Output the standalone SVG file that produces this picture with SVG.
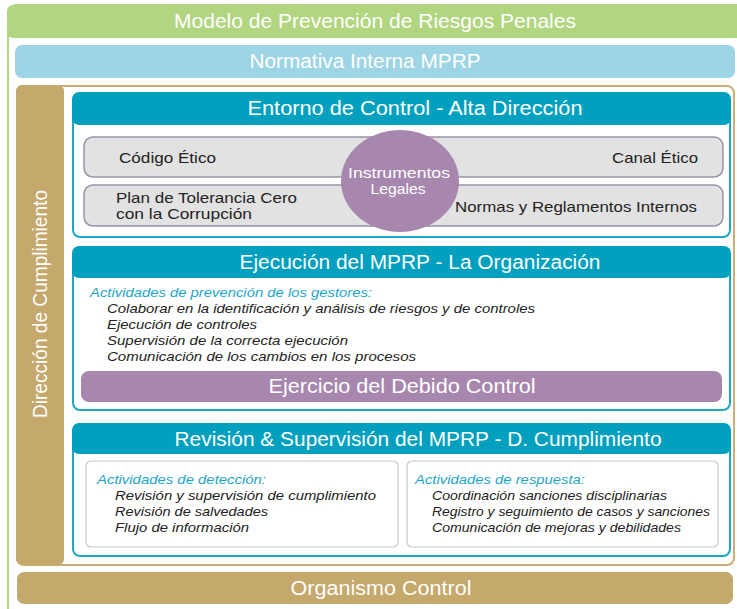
<svg xmlns="http://www.w3.org/2000/svg" width="737" height="609" viewBox="0 0 737 609">
<style>
.t{font-family:"Liberation Sans","Open Sans",sans-serif;fill:#fff;font-size:20px;text-anchor:middle}
.g{font-family:"Liberation Sans","Open Sans",sans-serif;fill:#222;font-size:15px}
.h{font-family:"Liberation Sans","Open Sans",sans-serif;fill:#1ea6c6;font-size:13.5px;font-style:italic}
.i{font-family:"Liberation Sans","Open Sans",sans-serif;fill:#222;font-size:13.5px;font-style:italic}
.w{font-family:"Liberation Sans","Open Sans",sans-serif;fill:#fff;font-size:14px;text-anchor:middle}
.teal{fill:#00a0be}
.body{fill:#fff;stroke:#1aa9c4;stroke-width:2}
.gray{fill:#e2e2e2;stroke:#9c92a4;stroke-width:1.5}
.box{fill:#fff;stroke:#c8c8c8;stroke-width:1.2}
.tan{fill:#c4a86c}
</style>
<rect width="737" height="609" fill="#fff"/>
<g id="outer">
<rect x="8" y="5" width="740" height="620" rx="8" fill="#fff" stroke="#b1d67f" stroke-width="2"/>
<rect x="7" y="5" width="740" height="33" rx="6" fill="#b1d67f"/>
<text class="t" x="375" y="28" textLength="402" lengthAdjust="spacingAndGlyphs">Modelo de Prevención de Riesgos Penales</text>
</g>
<g id="normativa">
<rect x="15" y="45" width="720" height="33" rx="7" fill="#9dd5e4"/>
<text class="t" x="365" y="68" textLength="231" lengthAdjust="spacingAndGlyphs">Normativa Interna MPRP</text>
</g>
<g id="direccion">
<rect x="17" y="86" width="717" height="479" rx="7" fill="#fff" stroke="#c9ae78" stroke-width="2"/>
<rect x="16" y="85" width="48" height="480" rx="6" class="tan"/>
<text class="t" transform="translate(47,304) rotate(-90)" textLength="228" lengthAdjust="spacingAndGlyphs">Dirección de Cumplimiento</text>
</g>
<g id="entorno">
<rect x="73" y="100" width="657" height="137" rx="7" class="body"/>
<rect x="72" y="92" width="659" height="33" rx="7" class="teal"/>
<text class="t" x="415" y="115" textLength="335" lengthAdjust="spacingAndGlyphs">Entorno de Control - Alta Dirección</text>
<rect x="84" y="137" width="639" height="40" rx="9" class="gray"/>
<rect x="84" y="185" width="639" height="41" rx="9" class="gray"/>
<text class="g" x="119" y="163" textLength="97" lengthAdjust="spacingAndGlyphs">Código Ético</text>
<text class="g" x="612" y="163" textLength="86" lengthAdjust="spacingAndGlyphs">Canal Ético</text>
<text class="g" x="116" y="203" textLength="181" lengthAdjust="spacingAndGlyphs">Plan de Tolerancia Cero</text>
<text class="g" x="116" y="219" textLength="136" lengthAdjust="spacingAndGlyphs">con la Corrupción</text>
<text class="g" x="455" y="212" textLength="242" lengthAdjust="spacingAndGlyphs">Normas y Reglamentos Internos</text>
</g>
<g id="instrumentos">
<ellipse cx="400" cy="181" rx="59" ry="51" fill="#a887ae"/>
<text class="w" x="399" y="178" textLength="102" lengthAdjust="spacingAndGlyphs">Instrumentos</text>
<text class="w" x="398" y="194" textLength="55" lengthAdjust="spacingAndGlyphs">Legales</text>
</g>
<g id="ejecucion">
<rect x="73" y="254" width="657" height="156" rx="7" class="body"/>
<rect x="72" y="246" width="659" height="32" rx="7" class="teal"/>
<text class="t" x="420" y="269" textLength="361" lengthAdjust="spacingAndGlyphs">Ejecución del MPRP - La Organización</text>
<text class="h" x="90" y="297" textLength="282" lengthAdjust="spacingAndGlyphs">Actividades de prevención de los gestores:</text>
<text class="i" x="107" y="313" textLength="428" lengthAdjust="spacingAndGlyphs">Colaborar en la identificación y análisis de riesgos y de controles</text>
<text class="i" x="107" y="329" textLength="150" lengthAdjust="spacingAndGlyphs">Ejecución de controles</text>
<text class="i" x="107" y="345" textLength="241" lengthAdjust="spacingAndGlyphs">Supervisión de la correcta ejecución</text>
<text class="i" x="107" y="361" textLength="309" lengthAdjust="spacingAndGlyphs">Comunicación de los cambios en los procesos</text>
</g>
<g id="debido-control">
<rect x="81" y="371" width="641" height="31" rx="8" fill="#a887ae"/>
<text class="t" x="402" y="393" textLength="267" lengthAdjust="spacingAndGlyphs">Ejercicio del Debido Control</text>
</g>
<g id="revision">
<rect x="73" y="430" width="657" height="126" rx="7" class="body"/>
<rect x="72" y="423" width="659" height="31" rx="7" class="teal"/>
<text class="t" x="418" y="446" textLength="487" lengthAdjust="spacingAndGlyphs">Revisión &amp; Supervisión del MPRP - D. Cumplimiento</text>
<rect x="86" y="461" width="312" height="86" rx="5" class="box"/>
<rect x="407" y="461" width="311" height="86" rx="5" class="box"/>
<text class="h" x="97" y="484" textLength="169" lengthAdjust="spacingAndGlyphs">Actividades de detección:</text>
<text class="i" x="115" y="500" textLength="261" lengthAdjust="spacingAndGlyphs">Revisión y supervisión de cumplimiento</text>
<text class="i" x="115" y="516" textLength="153" lengthAdjust="spacingAndGlyphs">Revisión de salvedades</text>
<text class="i" x="115" y="532" textLength="134" lengthAdjust="spacingAndGlyphs">Flujo de información</text>
<text class="h" x="415" y="484" textLength="170" lengthAdjust="spacingAndGlyphs">Actividades de respuesta:</text>
<text class="i" x="432" y="500" textLength="235" lengthAdjust="spacingAndGlyphs">Coordinación sanciones disciplinarias</text>
<text class="i" x="432" y="516" textLength="278" lengthAdjust="spacingAndGlyphs">Registro y seguimiento de casos y sanciones</text>
<text class="i" x="432" y="532" textLength="249" lengthAdjust="spacingAndGlyphs">Comunicación de mejoras y debilidades</text>
</g>
<g id="organismo">
<rect x="17" y="572" width="716" height="32" rx="7" class="tan"/>
<text class="t" x="381" y="595" textLength="181" lengthAdjust="spacingAndGlyphs">Organismo Control</text>
</g>
<g id="connectors"/>
</svg>
